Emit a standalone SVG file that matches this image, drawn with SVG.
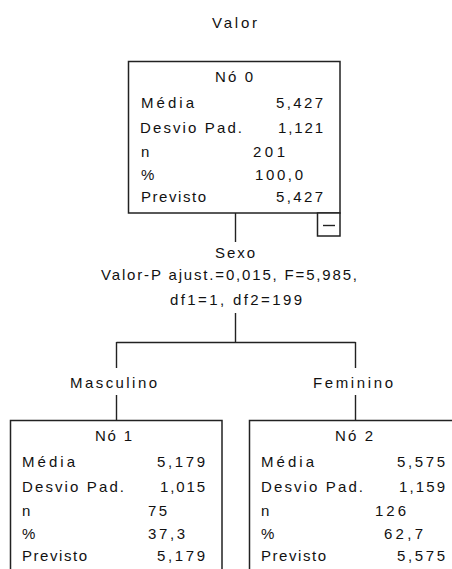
<svg xmlns="http://www.w3.org/2000/svg" width="452" height="569" viewBox="0 0 452 569">
  <style>
    .t { font-family: "Liberation Sans", Arial, sans-serif; font-size: 15px; fill: #111111; }
    .box { fill: #ffffff; stroke: #222222; stroke-width: 1.5; }
    .edge { fill: none; stroke: #222222; stroke-width: 1.4; }
  </style>
  <rect width="452" height="569" fill="#ffffff"/>

  <!-- dependent variable title -->
  <text class="t" x="212" y="28" textLength="45" lengthAdjust="spacing">Valor</text>

  <!-- connectors and split labels -->
  <g id="connectors">
    <path class="edge" d="M235.5 213 V242"/>
    <path class="edge" d="M235.5 313 V342.5 M116.5 342.5 H355.5 M116.5 342 V368 M355.5 342 V368"/>
    <path class="edge" d="M116.5 395 V420 M355.5 395 V420"/>
    <text class="t" x="215" y="258" textLength="40" lengthAdjust="spacing">Sexo</text>
    <text class="t" x="101" y="280" textLength="256" lengthAdjust="spacing">Valor-P ajust.=0,015, F=5,985,</text>
    <text class="t" x="170" y="305" textLength="132" lengthAdjust="spacing">df1=1, df2=199</text>
    <text class="t" x="70" y="388" textLength="87" lengthAdjust="spacing">Masculino</text>
    <text class="t" x="313" y="388" textLength="80" lengthAdjust="spacing">Feminino</text>
  </g>

  <!-- root node -->
  <g id="node0">
    <rect class="box" x="128.5" y="61.5" width="211.5" height="151.5"/>
    <rect class="box" x="317.5" y="213" width="22.5" height="23"/>
    <path class="edge" d="M323 225.5 H335"/>
    <text class="t" x="215" y="82" textLength="38" lengthAdjust="spacing">Nó 0</text>
    <text class="t" x="141" y="108" textLength="53" lengthAdjust="spacing">Média</text>
    <text class="t" x="140" y="133" textLength="102" lengthAdjust="spacing">Desvio Pad.</text>
    <text class="t" x="141" y="157">n</text>
    <text class="t" x="141" y="180">%</text>
    <text class="t" x="141" y="202" textLength="65" lengthAdjust="spacing">Previsto</text>
    <text class="t" x="276" y="108" textLength="47" lengthAdjust="spacing">5,427</text>
    <text class="t" x="278" y="133" textLength="45" lengthAdjust="spacing">1,121</text>
    <text class="t" x="253" y="157" textLength="32" lengthAdjust="spacing">201</text>
    <text class="t" x="255" y="180" textLength="48" lengthAdjust="spacing">100,0</text>
    <text class="t" x="276" y="202" textLength="47" lengthAdjust="spacing">5,427</text>
  </g>

  <!-- node 1: Masculino -->
  <g id="node1">
    <rect class="box" x="10.5" y="420.5" width="211.5" height="160"/>
    <text class="t" x="95" y="441" textLength="37" lengthAdjust="spacing">Nó 1</text>
    <text class="t" x="22" y="467" textLength="53" lengthAdjust="spacing">Média</text>
    <text class="t" x="22" y="492" textLength="102" lengthAdjust="spacing">Desvio Pad.</text>
    <text class="t" x="22" y="516">n</text>
    <text class="t" x="22" y="539">%</text>
    <text class="t" x="22" y="561" textLength="65" lengthAdjust="spacing">Previsto</text>
    <text class="t" x="157" y="467" textLength="48" lengthAdjust="spacing">5,179</text>
    <text class="t" x="160" y="492" textLength="45" lengthAdjust="spacing">1,015</text>
    <text class="t" x="148" y="516" textLength="19" lengthAdjust="spacing">75</text>
    <text class="t" x="148" y="539" textLength="37" lengthAdjust="spacing">37,3</text>
    <text class="t" x="157" y="561" textLength="48" lengthAdjust="spacing">5,179</text>
  </g>

  <!-- node 2: Feminino -->
  <g id="node2">
    <rect class="box" x="249.5" y="420.5" width="211.5" height="160"/>
    <text class="t" x="335" y="441" textLength="38" lengthAdjust="spacing">Nó 2</text>
    <text class="t" x="261" y="467" textLength="53" lengthAdjust="spacing">Média</text>
    <text class="t" x="261" y="492" textLength="102" lengthAdjust="spacing">Desvio Pad.</text>
    <text class="t" x="261" y="516">n</text>
    <text class="t" x="261" y="539">%</text>
    <text class="t" x="261" y="561" textLength="65" lengthAdjust="spacing">Previsto</text>
    <text class="t" x="397" y="467" textLength="48" lengthAdjust="spacing">5,575</text>
    <text class="t" x="399" y="492" textLength="46" lengthAdjust="spacing">1,159</text>
    <text class="t" x="375" y="516" textLength="31" lengthAdjust="spacing">126</text>
    <text class="t" x="384" y="539" textLength="39" lengthAdjust="spacing">62,7</text>
    <text class="t" x="397" y="561" textLength="48" lengthAdjust="spacing">5,575</text>
  </g>
</svg>
